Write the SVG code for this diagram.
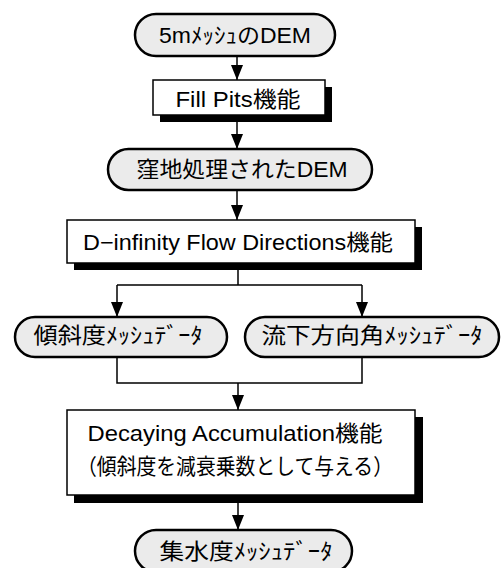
<svg xmlns="http://www.w3.org/2000/svg" width="502" height="568" viewBox="0 0 502 568">
<defs>
<style>
.pill{fill:#ebebeb;stroke:#000;stroke-width:2.5}
.box{fill:#fff;stroke:#000;stroke-width:1.5}
.sh{fill:#000}
.t{font-family:"Liberation Sans","Noto Sans CJK JP",sans-serif;font-size:22px;fill:#000;text-anchor:middle}
.c{fill:none;stroke:#000;stroke-width:1.5}
</style>
<marker id="ah" viewBox="0 0 15 12" refX="15" refY="6" markerWidth="15" markerHeight="12" markerUnits="userSpaceOnUse" orient="auto">
<path d="M0,0 L15,6 L0,12 Z" fill="#000"/>
</marker>
</defs>
<rect width="502" height="568" fill="#fff"/>
<g id="connectors">
<path class="c" d="M237,56 V80" marker-end="url(#ah)"/>
<path class="c" d="M237,115 V149" marker-end="url(#ah)"/>
<path class="c" d="M237,190 V220" marker-end="url(#ah)"/>
<path class="c" d="M238,263 V285 M117,285 H362"/>
<path class="c" d="M117,285 V317" marker-end="url(#ah)"/>
<path class="c" d="M362,285 V317" marker-end="url(#ah)"/>
<path class="c" d="M117,357 V383 H362 V357"/>
<path class="c" d="M238,383 V410" marker-end="url(#ah)"/>
<path class="c" d="M238,495 V530" marker-end="url(#ah)"/>
</g>
<g id="n1">
<rect class="pill" x="135" y="14" width="200" height="42" rx="21"/>
<text class="t" x="235" y="43" textLength="152" lengthAdjust="spacingAndGlyphs">5mﾒｯｼｭのDEM</text>
</g>
<g id="n2">
<rect class="sh" x="160" y="87" width="172" height="35"/>
<rect class="box" x="153" y="80" width="172" height="35"/>
<text class="t" x="238" y="107" textLength="125" lengthAdjust="spacingAndGlyphs">Fill Pits機能</text>
</g>
<g id="n3">
<rect class="pill" x="108" y="149" width="264" height="41" rx="20.5"/>
<text class="t" x="242" y="177" textLength="211" lengthAdjust="spacingAndGlyphs">窪地処理されたDEM</text>
</g>
<g id="n4">
<rect class="sh" x="74" y="227" width="348" height="43"/>
<rect class="box" x="67" y="220" width="348" height="43"/>
<text class="t" x="238" y="250" textLength="310" lengthAdjust="spacingAndGlyphs">D−infinity Flow Directions機能</text>
</g>
<g id="n5">
<rect class="pill" x="15" y="317" width="212" height="40" rx="20"/>
<text class="t" x="118" y="343" textLength="169" lengthAdjust="spacingAndGlyphs">傾斜度ﾒｯｼｭﾃﾞｰﾀ</text>
</g>
<g id="n6">
<rect class="pill" x="245" y="317" width="254" height="40" rx="20"/>
<text class="t" x="372" y="343" textLength="221" lengthAdjust="spacingAndGlyphs">流下方向角ﾒｯｼｭﾃﾞｰﾀ</text>
</g>
<g id="n7">
<rect class="sh" x="74" y="417" width="349" height="86"/>
<rect class="box" x="67" y="410" width="348" height="85"/>
<text class="t" x="235" y="441" textLength="295" lengthAdjust="spacingAndGlyphs">Decaying Accumulation機能</text>
<text class="t" x="235" y="474" textLength="316" lengthAdjust="spacingAndGlyphs">（傾斜度を減衰乗数として与える）</text>
</g>
<g id="n8">
<rect class="pill" x="135" y="530" width="217" height="42" rx="21"/>
<text class="t" x="246" y="559" textLength="173" lengthAdjust="spacingAndGlyphs">集水度ﾒｯｼｭﾃﾞｰﾀ</text>
</g>
</svg>
